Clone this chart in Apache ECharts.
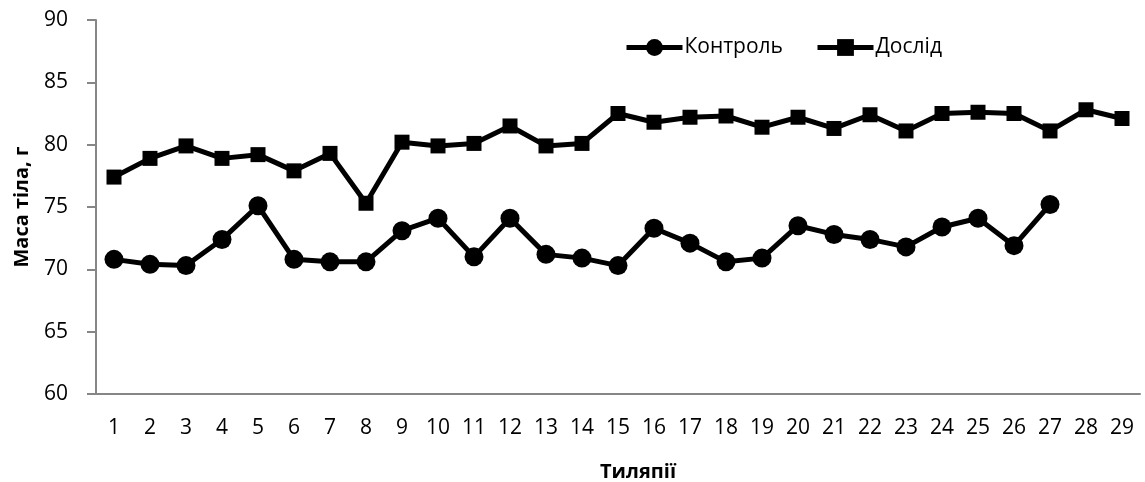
<!DOCTYPE html>
<html>
<head>
<meta charset="utf-8">
<script src="https://cdn.jsdelivr.net/npm/echarts@6/dist/echarts.min.js"></script>
<style>
  html, body { margin: 0; padding: 0; background: #fff; }
  #my_chart { width: 1145px; height: 482px; }
</style>
</head>
<body>
<div id="my_chart"></div>
<script>
// категорії
var categories = ['1','2','3','4','5','6','7','8','9','10','11','12','13','14','15',
    '16','17','18','19','20','21','22','23','24','25','26','27','28','29'];
// Контроль (27 точок)
var control = [70.8, 70.4, 70.3, 72.4, 75.1, 70.8, 70.6, 70.6, 73.1, 74.1,
    71.0, 74.1, 71.2, 70.9, 70.3, 73.3, 72.1, 70.6, 70.9, 73.5,
    72.8, 72.4, 71.8, 73.4, 74.1, 71.9, 75.2];
// Дослід
var doslid = [77.4, 78.9, 79.9, 78.9, 79.2, 77.9, 79.3, 75.3, 80.2, 79.9,
    80.1, 81.5, 79.9, 80.1, 82.5, 81.8, 82.2, 82.3, 81.4, 82.2,
    81.3, 82.4, 81.1, 82.5, 82.6, 82.5, 81.1, 82.8, 82.1];

var fontFam = '"Open Sans", "Noto Sans", sans-serif';

var myChart = echarts.init(document.getElementById('my_chart'));
var option = {
    backgroundColor: '#fff',
    animation: false,
    textStyle: { fontFamily: fontFam, color: '#000' },
    legend: {
        left: 619,
        top: 32,
        itemWidth: 56,
        itemHeight: 21,
        itemGap: 32,
        lineStyle: { width: 5 },
        textStyle: { fontSize: 21, color: '#000', fontFamily: fontFam, padding: [0, 0, 0, -3] },
        data: ['Контроль', 'Дослід']
    },
    grid: {
        left: 96,
        right: 5,
        top: 20,
        bottom: 88,
        outerBoundsMode: 'none',
        containLabel: false
    },
    xAxis: {
        type: 'category',
        data: categories,
        boundaryGap: true,
        name: 'Тиляпії',
        nameLocation: 'middle',
        nameGap: 68,
        nameTextStyle: { fontSize: 20, fontWeight: 'bold', color: '#000', fontFamily: fontFam, padding: [0, 0, 0, 40] },
        axisLine: { lineStyle: { color: '#868686', width: 2 } },
        axisTick: { show: false },
        axisLabel: { interval: 0, fontSize: 21, color: '#000', margin: 24, fontFamily: fontFam },
        splitLine: { show: false }
    },
    yAxis: {
        type: 'value',
        min: 60,
        max: 90,
        interval: 5,
        name: 'Маса тіла, г',
        nameLocation: 'middle',
        nameGap: 64,
        nameRotate: 90,
        nameTextStyle: { fontSize: 20, fontWeight: 'bold', color: '#000', fontFamily: fontFam },
        axisLine: { show: true, lineStyle: { color: '#868686', width: 2 } },
        axisTick: { show: true, length: 9, lineStyle: { color: '#868686', width: 2 } },
        axisLabel: { fontSize: 21, color: '#000', margin: 28, fontFamily: fontFam },
        splitLine: { show: false }
    },
    series: [
        {
            name: 'Контроль',
            type: 'line',
            data: control,
            symbol: 'circle',
            symbolSize: 19,
            showAllSymbol: true,
            lineStyle: { color: '#000', width: 5 },
            itemStyle: { color: '#000' }
        },
        {
            name: 'Дослід',
            type: 'line',
            data: doslid,
            symbol: 'rect',
            symbolSize: 15,
            showAllSymbol: true,
            lineStyle: { color: '#000', width: 5 },
            itemStyle: { color: '#000' }
        }
    ]
};
myChart.setOption(option, true);
</script>
</body>
</html>
